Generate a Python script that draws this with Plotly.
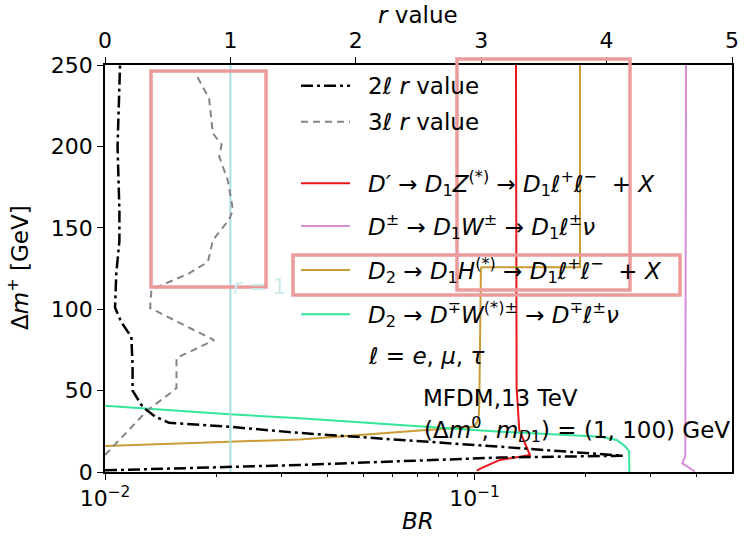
import plotly.graph_objects as go

# ---------------- data ----------------
# 2-lepton r value (top axis, linear r)
dm_2l = [1.0, 4.3, 8.9, 10.0, 15.5, 24.0, 27.8, 30.3, 34, 40, 50, 56.6, 65, 83, 92, 101, 122, 142, 160, 200, 250]
r_2l = [0.0, 1.55, 3.15, 4.13, 3.15, 1.55, 0.99, 0.51, 0.40, 0.30, 0.22, 0.22, 0.22, 0.21, 0.13, 0.08, 0.09, 0.115, 0.115, 0.10, 0.12]

# 3-lepton r value (top axis, linear r)
dm_3l = [10.4, 38, 49, 51.6, 70, 81, 100.7, 112, 122, 129, 132, 142.5, 155, 161, 179, 194, 201, 208, 229.5, 245]
r_3l = [0.0, 0.34, 0.53, 0.57, 0.57, 0.87, 0.36, 0.37, 0.67, 0.82, 0.83, 0.86, 0.99, 1.02, 0.98, 0.91, 0.93, 0.86, 0.83, 0.72]

# r = 1 reference
r_one = [1, 1]
dm_one = [0, 250]

# Branching ratios (bottom axis, log)
dm_red = [0.8, 2.5, 7.4, 10.4, 25.8, 52, 250]
br_red = [0.1014, 0.1047, 0.1172, 0.1413, 0.1322, 0.1300, 0.1295]

dm_violet = [0.3, 5.3, 10, 250]
br_violet = [0.395, 0.365, 0.372, 0.3736]

dm_gold = [15.8, 16.0, 18.6, 20.0, 25.8, 26.8, 27.8, 29.0, 31.0, 35.0, 40.0, 125.2, 125.7, 125.7, 250]
br_gold = [0.0098, 0.0100, 0.0217, 0.0337, 0.0741, 0.0880, 0.0993, 0.1005, 0.1018, 0.1027, 0.1030, 0.1041, 0.1045, 0.193, 0.193]

dm_green = [41.0, 40.7, 35.4, 33.0, 24.8, 21.7, 19.7, 15.5, 12.5, 0.0]
br_green = [0.0095, 0.0100, 0.0217, 0.0337, 0.1173, 0.2186, 0.2427, 0.2566, 0.2621, 0.2625]

# tick labels
y_ticks = [0, 50, 100, 150, 200, 250]
r_ticks = [0, 1, 2, 3, 4, 5]
br_ticks = [0.01, 0.1]
br_ticktext = ["10<sup>\u22122</sup>", "10<sup>\u22121</sup>"]
br_minor = [0.02, 0.03, 0.04, 0.05, 0.06, 0.07, 0.08, 0.09, 0.2, 0.3, 0.4]

# ---------------- figure ----------------
FONT = "DejaVu Sans"
W, H = 751, 541
L, R, T, B = 105, 732, 65, 472
FS = 23   # text size
TS = 22   # tick label size


def px(x):
    return (x - L) / (R - L)


def py(y):
    return (B - y) / (B - T)


C_RED = "#e8161b"
C_VIO = "#d78ed9"
C_GOLD = "#c99c36"
C_GREEN = "#33e69a"
C_CYAN = "#a6e0df"
C_PINK = "#ec9a9a"
DASHDOT = "12px,4px,3px,4px"
DASHED = "7px,5px"

fig = go.Figure()

fig.add_trace(go.Scatter(x=br_red, y=dm_red, mode="lines", line=dict(color=C_RED, width=2), xaxis="x", yaxis="y"))
fig.add_trace(go.Scatter(x=br_violet, y=dm_violet, mode="lines", line=dict(color=C_VIO, width=2), xaxis="x", yaxis="y"))
fig.add_trace(go.Scatter(x=br_gold, y=dm_gold, mode="lines", line=dict(color=C_GOLD, width=2), xaxis="x", yaxis="y"))
fig.add_trace(go.Scatter(x=br_green, y=dm_green, mode="lines", line=dict(color=C_GREEN, width=2), xaxis="x", yaxis="y"))

fig.add_trace(go.Scatter(x=r_one, y=dm_one, mode="lines", line=dict(color=C_CYAN, width=2), xaxis="x2", yaxis="y"))
fig.add_trace(go.Scatter(x=r_3l, y=dm_3l, mode="lines", line=dict(color="#858585", width=2, dash=DASHED), xaxis="x2", yaxis="y"))
fig.add_trace(go.Scatter(x=r_2l, y=dm_2l, mode="lines", line=dict(color="black", width=2.5, dash=DASHDOT), xaxis="x2", yaxis="y"))

tickfont = dict(family=FONT, size=TS, color="black")

fig.update_layout(
    width=W, height=H,
    margin=dict(l=L, r=W - R, t=T, b=H - B, pad=0),
    paper_bgcolor="white", plot_bgcolor="white",
    showlegend=False,
    font=dict(family=FONT, size=FS, color="black"),
    xaxis=dict(
        type="log", range=[-2, -0.3031], showgrid=False, zeroline=False,
        showline=True, linecolor="black", linewidth=1.5,
        ticks="outside", ticklen=6, tickwidth=1.2, tickcolor="black",
        tickvals=br_ticks, ticktext=br_ticktext, tickfont=tickfont,
        minor=dict(tickvals=br_minor, ticks="outside", ticklen=3.5, tickwidth=1, tickcolor="black"),
    ),
    xaxis2=dict(
        range=[0, 5], overlaying="x", side="top", showgrid=False, zeroline=False,
        showline=True, linecolor="black", linewidth=1.5,
        ticks="outside", ticklen=6, tickwidth=1.2, tickcolor="black",
        tickvals=r_ticks, tickfont=tickfont,
    ),
    yaxis=dict(
        range=[0, 250], showgrid=False, zeroline=False,
        showline=True, linecolor="black", linewidth=1.5, mirror=True,
        ticks="outside", ticklen=6, tickwidth=1.2, tickcolor="black",
        tickvals=y_ticks, tickfont=tickfont,
    ),
)

# ----- legend (manual) -----
legend_items = [
    (85.7, "black", DASHDOT, 2.5, "2\u2113 <i>r</i> value"),
    (121.7, "#858585", DASHED, 2, "3\u2113 <i>r</i> value"),
    (183.3, C_RED, "solid", 2, "<i>D\u2032</i> \u2192 <i>D</i><sub>1</sub><i>Z</i><sup>(*)</sup> \u2192 <i>D</i><sub>1</sub><i>\u2113</i><sup>+</sup><i>\u2113</i><sup>\u2212</sup>  + <i>X</i>"),
    (226.0, C_VIO, "solid", 2, "<i>D</i><sup>\u00b1</sup> \u2192 <i>D</i><sub>1</sub><i>W</i><sup>\u00b1</sup> \u2192 <i>D</i><sub>1</sub><i>\u2113</i><sup>\u00b1</sup><i>\u03bd</i>"),
    (270.0, C_GOLD, "solid", 2, "<i>D</i><sub>2</sub> \u2192 <i>D</i><sub>1</sub><i>H</i><sup>(*)</sup> \u2192 <i>D</i><sub>1</sub><i>\u2113</i><sup>+</sup><i>\u2113</i><sup>\u2212</sup>  + <i>X</i>"),
    (314.3, C_GREEN, "solid", 2, "<i>D</i><sub>2</sub> \u2192 <i>D</i><sup>\u2213</sup><i>W</i><sup>(*)\u00b1</sup> \u2192 <i>D</i><sup>\u2213</sup><i>\u2113</i><sup>\u00b1</sup><i>\u03bd</i>"),
]
for yy, col, dash, wid, txt in legend_items:
    fig.add_shape(type="line", xref="paper", yref="paper",
                  x0=px(301), x1=px(350), y0=py(yy), y1=py(yy),
                  line=dict(color=col, width=wid, dash=dash))
    fig.add_annotation(xref="paper", yref="paper", x=px(366), y=py(yy), text=txt,
                       showarrow=False, xanchor="left", yanchor="middle",
                       font=dict(family=FONT, size=FS, color="black"))
fig.add_annotation(xref="paper", yref="paper", x=px(366), y=py(356), text="<i>\u2113</i> = <i>e</i>, <i>\u03bc</i>, <i>\u03c4</i>",
                   showarrow=False, xanchor="left", yanchor="middle",
                   font=dict(family=FONT, size=FS, color="black"))

# model text
fig.add_annotation(xref="paper", yref="paper", x=px(421), y=py(398), text="MFDM,13 TeV",
                   showarrow=False, xanchor="left", yanchor="middle", font=dict(family=FONT, size=FS))
fig.add_annotation(xref="paper", yref="paper", x=px(422), y=py(429),
                   text="(\u0394<i>m</i><sup>0</sup>, <i>m</i><sub><i>D</i>1</sub>) = (1, 100) GeV",
                   showarrow=False, xanchor="left", yanchor="middle", font=dict(family=FONT, size=FS))

# faint r=1 label
fig.add_annotation(xref="paper", yref="paper", x=px(231), y=py(287), text="<i>r</i> = 1",
                   showarrow=False, xanchor="left", yanchor="middle",
                   font=dict(family=FONT, size=FS - 2, color="#c8ecec"))

# axis titles
fig.add_annotation(xref="paper", yref="paper", x=px(418), y=py(15), text="<i>r</i> value",
                   showarrow=False, xanchor="center", yanchor="middle", font=dict(family=FONT, size=FS))
fig.add_annotation(xref="paper", yref="paper", x=px(418), y=py(521), text="<i>BR</i>",
                   showarrow=False, xanchor="center", yanchor="middle", font=dict(family=FONT, size=FS))
fig.add_annotation(xref="paper", yref="paper", x=px(18), y=py(268), text="\u0394<i>m</i><sup>+</sup> [GeV]",
                   textangle=-90, showarrow=False, xanchor="center", yanchor="middle", font=dict(family=FONT, size=FS))

# highlight rectangles
for (x0, y0, x1, y1) in [(151, 71, 266, 287), (457, 59, 630, 290), (293, 255, 680, 295)]:
    fig.add_shape(type="rect", xref="paper", yref="paper", layer="above",
                  x0=px(x0), x1=px(x1), y0=py(y1), y1=py(y0),
                  line=dict(color=C_PINK, width=3.5), fillcolor="rgba(0,0,0,0)")

fig.write_html("out.html", config={"displayModeBar": False},
               post_script="document.body.style.margin='0px';document.body.style.overflow='hidden';")
